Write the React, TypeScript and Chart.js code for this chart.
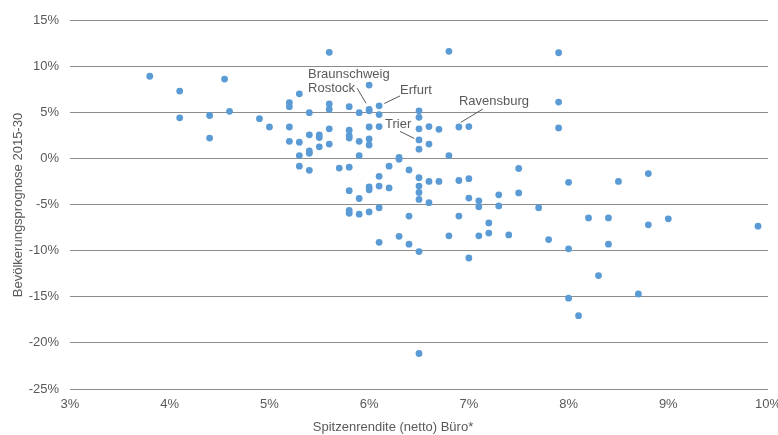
import React, { useEffect, useRef } from "react";
import { Chart, registerables } from "chart.js";

Chart.register(...registerables);

// Spitzenrendite (netto) Büro, in %
const rendite: number[] = [
  3.8, 4.1, 4.55, 5.3, 5.2, 5.2, 4.6, 5.4, 4.1, 4.4, 4.9, 5.0, 5.2, 5.4, 4.4, 5.2, 5.3, 5.4, 5.4, 5.3,
  5.3, 5.4, 5.6, 6.8, 6.0, 5.6, 5.6, 5.8, 6.1, 6.0, 6.0, 5.9, 6.1, 6.5, 6.5, 5.6, 5.8, 6.0, 6.1, 6.5,
  6.6, 6.7, 6.9, 7.0, 5.5, 5.5, 5.6, 5.8, 5.8, 5.9, 6.0, 6.0, 6.5, 6.6, 6.5, 5.5, 5.9, 6.3, 6.3, 6.8,
  5.7, 5.8, 6.2, 6.4, 6.1, 6.5, 6.6, 6.7, 6.9, 7.0, 6.0, 6.0, 6.1, 6.2, 6.5, 7.9, 7.9, 7.9, 7.5, 8.0,
  6.5, 6.5, 6.6, 5.8, 5.9, 5.8, 5.8, 5.9, 6.0, 6.1, 6.4, 6.9, 7.0, 7.1, 7.1, 6.1, 6.3, 6.4, 6.5, 6.8,
  7.1, 7.0, 8.5, 7.3, 7.3, 7.5, 7.7, 7.2, 7.2, 7.4, 7.8, 8.0, 8.2, 8.4, 8.4, 8.3, 8.8, 8.8, 9.0, 9.9,
  8.0, 8.7, 8.1, 6.5,
];

// Bevölkerungsprognose 2015-30, in %
const prognose: number[] = [
  8.9, 7.3, 8.6, 7.0, 6.05, 5.6, 5.1, 4.95, 4.4, 4.65, 4.3, 3.4, 3.4, 2.55, 2.2, 1.85, 1.75, 0.8, 0.55, 0.3,
  -0.85, -1.3, 11.5, 11.6, 7.95, 5.9, 5.3, 5.6, 5.7, 5.3, 5.15, 4.95, 4.75, 5.15, 4.45, 3.2, 3.05, 3.4, 3.45, 3.2,
  3.45, 3.15, 3.4, 3.45, 2.55, 2.25, 1.55, 2.45, 2.2, 1.85, 2.1, 1.45, 2.0, 1.55, 1.0, 1.25, 0.3, 0.1, -0.1, 0.3,
  -1.05, -0.95, -0.85, -1.25, -1.95, -2.1, -2.5, -2.5, -2.4, -2.2, -3.1, -3.4, -3.0, -3.2, -3.0, 11.45, 6.1, 3.3, -1.1, -2.6,
  -3.7, -4.45, -4.8, -3.5, -4.35, -5.65, -5.95, -6.05, -5.8, -5.35, -6.25, -6.25, -4.3, -4.6, -5.25, -9.1, -8.45, -9.3, -10.1, -8.4,
  -8.4, -10.8, -2.5, -3.95, -5.15, -3.75, -5.35, -7.0, -8.1, -8.3, -8.8, -9.8, -6.45, -6.45, -9.3, -12.7, -1.65, -7.2, -6.55, -7.35,
  -15.15, -14.7, -17.05, -21.15,
];

const xTicks: number[] = [3, 4, 5, 6, 7, 8, 9, 10];
const yTicks: number[] = [-25, -20, -15, -10, -5, 0, 5, 10, 15];

const xTitle = "Spitzenrendite (netto) Büro*";
const yTitle = "Bevölkerungsprognose 2015-30";

// City labels (text anchor in data units) and their leader lines
const cityNames: string[] = ["Braunschweig", "Rostock", "Erfurt", "Ravensburg", "Trier"];
const cityTextX: number[] = [5.387, 5.387, 6.31, 6.9, 6.159];
const cityTextY: number[] = [9.12, 7.61, 7.39, 6.2, 3.71];
const leaderFromX: (number | null)[] = [null, 5.879, 6.31, 7.139, 6.31];
const leaderFromY: (number | null)[] = [null, 7.61, 6.77, 5.34, 2.92];
const leaderToX: (number | null)[] = [null, 5.969, 6.152, 6.919, 6.453];
const leaderToY: (number | null)[] = [null, 5.98, 5.95, 3.9, 2.16];

const FONT = "'Liberation Sans', Arial, Helvetica, sans-serif";
const TEXT = "#595959";

const annotationPlugin = {
  id: "annotations",
  afterDatasetsDraw(chart: any) {
    const { ctx, scales } = chart;
    const xs = scales.x;
    const ys = scales.y;
    ctx.save();
    ctx.strokeStyle = TEXT;
    ctx.lineWidth = 1;
    for (let i = 0; i < cityNames.length; i++) {
      const fx = leaderFromX[i], fy = leaderFromY[i], tx = leaderToX[i], ty = leaderToY[i];
      if (fx != null && fy != null && tx != null && ty != null) {
        ctx.beginPath();
        ctx.moveTo(xs.getPixelForValue(fx), ys.getPixelForValue(fy));
        ctx.lineTo(xs.getPixelForValue(tx), ys.getPixelForValue(ty));
        ctx.stroke();
      }
    }
    ctx.fillStyle = TEXT;
    ctx.font = `13px ${FONT}`;
    ctx.textAlign = "left";
    ctx.textBaseline = "middle";
    for (let i = 0; i < cityNames.length; i++) {
      ctx.fillText(cityNames[i], xs.getPixelForValue(cityTextX[i]), ys.getPixelForValue(cityTextY[i]));
    }
    ctx.restore();
  },
  afterDraw(chart: any) {
    const { ctx } = chart;
    ctx.save();
    ctx.fillStyle = TEXT;
    ctx.font = `13px ${FONT}`;
    ctx.textAlign = "center";
    ctx.textBaseline = "middle";
    ctx.fillText(xTitle, 393, 427);
    ctx.translate(18, 205);
    ctx.rotate(-Math.PI / 2);
    ctx.fillText(yTitle, 0, 0);
    ctx.restore();
  },
};

export default function App() {
  const canvasRef = useRef<HTMLCanvasElement | null>(null);

  useEffect(() => {
    const canvas = canvasRef.current;
    if (!canvas) return;
    const points = rendite.map((x, i) => ({ x, y: prognose[i] }));
    const chart = new Chart(canvas, {
      type: "scatter",
      data: {
        datasets: [
          {
            data: points,
            backgroundColor: "#5B9BD5",
            borderWidth: 0,
            pointRadius: 3.4,
            pointHoverRadius: 3.4,
          },
        ],
      },
      options: {
        animation: false,
        responsive: false,
        devicePixelRatio: 1,
        layout: { padding: { top: 20, right: 10, left: 0, bottom: 0 } },
        plugins: {
          legend: { display: false },
          tooltip: { enabled: false },
          title: { display: false },
        },
        scales: {
          x: {
            type: "linear",
            min: 3,
            max: 10,
            afterBuildTicks: (scale: any) => {
              scale.ticks = xTicks.map((v) => ({ value: v }));
            },
            afterFit: (scale: any) => {
              scale.height = 46;
              scale.paddingLeft = 0;
              scale.paddingRight = 0;
            },
            ticks: {
              callback: (v: any) => `${v}%`,
              color: TEXT,
              font: { family: FONT, size: 13 },
              padding: 8,
              maxRotation: 0,
            },
            grid: { display: false, drawTicks: false },
            border: { display: false },
          },
          y: {
            type: "linear",
            min: -25,
            max: 15,
            afterBuildTicks: (scale: any) => {
              scale.ticks = yTicks.map((v) => ({ value: v }));
            },
            afterFit: (scale: any) => {
              scale.width = 70;
              scale.paddingTop = 0;
              scale.paddingBottom = 0;
            },
            ticks: {
              callback: (v: any) => `${v}%`,
              color: TEXT,
              font: { family: FONT, size: 13 },
              padding: 11,
            },
            grid: { color: "#8c8c8c", lineWidth: 1, drawTicks: false },
            border: { display: false },
          },
        },
      },
      plugins: [annotationPlugin],
    });
    return () => chart.destroy();
  }, []);

  return (
    <div
      style={{
        position: "fixed",
        left: 0,
        top: 0,
        width: 778,
        height: 435,
        background: "#ffffff",
      }}
    >
      <canvas ref={canvasRef} width={778} height={435} style={{ width: 778, height: 435, display: "block" }} />
    </div>
  );
}
